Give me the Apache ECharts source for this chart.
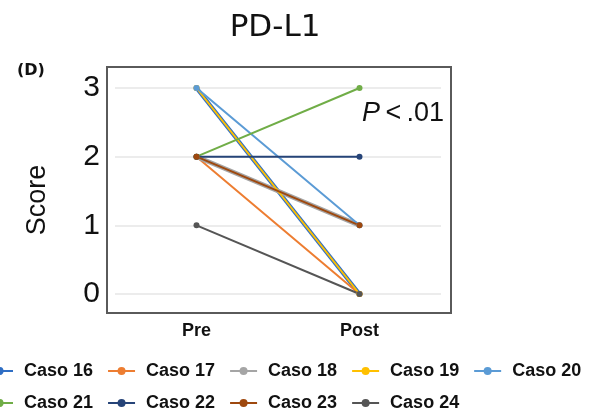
<!DOCTYPE html>
<html>
<head>
<meta charset="utf-8">
<script src="https://cdn.jsdelivr.net/npm/echarts@6/dist/echarts.min.js"></script>
<style>
  html, body { margin: 0; padding: 0; background: #fff; }
  #chart { width: 608px; height: 419px; }
</style>
</head>
<body>
<div id="chart"></div>
<script>
// PD-L1 score per case, before and after
const categories = ['Pre', 'Post'];
const caseNames = ['Caso 16', 'Caso 17', 'Caso 18', 'Caso 19', 'Caso 20',
  'Caso 21', 'Caso 22', 'Caso 23', 'Caso 24'];
const preScores = [3, 2, 2, 3, 3, 2, 2, 2, 1];
const postScores = [0, 0, 1, 0, 1, 3, 2, 1, 0];
const caseColors = ['#2f6ec4', '#ed7d31', '#a5a5a5', '#ffc000', '#5b9bd5',
  '#70ad47', '#264478', '#9e480e', '#555555'];
// a few lines sit under others with the same values, drawn wider so they still show
const lineWidths = [4, 2, 4.5, 2, 2, 2, 2, 2, 2];

const chart = echarts.init(document.getElementById('chart'), null, { renderer: 'canvas' });

let series = caseNames.map((name, i) => ({
  name: name,
  type: 'line',
  data: [preScores[i], postScores[i]],
  symbol: 'circle',
  symbolSize: 6,
  color: caseColors[i],
  lineStyle: { width: lineWidths[i] },
  emphasis: { disabled: true }
}));

let legendText = {
  fontFamily: 'Liberation Sans',
  fontWeight: 'bold',
  fontSize: 18,
  color: '#111',
  padding: [0, 0, 0, 6]
};

let legendBase = {
  left: -15,
  padding: 0,
  itemWidth: 27,
  itemHeight: 10,
  itemGap: 14,
  itemStyle: { borderWidth: 0 },
  lineStyle: { width: 2 },
  textStyle: legendText
};

chart.setOption({
  animation: false,
  title: {
    text: 'PD-L1',
    left: 270,
    top: 7,
    textAlign: 'center',
    textStyle: { fontFamily: 'DejaVu Sans', fontWeight: 'normal', fontSize: 31, color: '#111' }
  },
  grid: { left: 115, right: 167, top: 88, bottom: 125 },
  xAxis: {
    type: 'category',
    data: categories,
    axisLine: { show: false },
    axisTick: { show: false },
    axisLabel: {
      margin: 28,
      fontFamily: 'Liberation Sans',
      fontWeight: 'bold',
      fontSize: 18,
      color: '#111'
    }
  },
  yAxis: {
    type: 'value',
    min: 0,
    max: 3,
    interval: 1,
    name: 'Score',
    nameLocation: 'middle',
    nameRotate: 90,
    nameGap: 64,
    nameTextStyle: {
      fontFamily: 'Liberation Sans',
      fontSize: 27,
      color: '#111',
      padding: [0, 18, 0, 0]
    },
    axisLine: { show: false },
    axisTick: { show: false },
    axisLabel: { margin: 15, fontFamily: 'Liberation Sans', fontSize: 30, color: '#111' },
    splitLine: { lineStyle: { color: '#ececec', width: 2 } }
  },
  legend: [
    Object.assign({ data: caseNames.slice(0, 5), top: 362 }, legendBase),
    Object.assign({ data: caseNames.slice(5), top: 394 }, legendBase)
  ],
  graphic: [
    {
      type: 'rect',
      shape: { x: 107, y: 67, width: 344, height: 246 },
      style: { fill: 'none', stroke: '#5a5a5a', lineWidth: 2 },
      silent: true
    },
    {
      type: 'text',
      left: 17,
      top: 63,
      style: { text: '(D)', font: 'bold 16px "DejaVu Sans"', fill: '#111' }
    },
    {
      type: 'text',
      left: 362,
      top: 100,
      style: {
        text: '{i|P}\u2009<\u2009.01',
        font: '27px "Liberation Sans"',
        fill: '#111',
        rich: { i: { fontStyle: 'italic', fontSize: 27, fontFamily: 'Liberation Sans' } }
      }
    }
  ],
  series: series
});
</script>
</body>
</html>
